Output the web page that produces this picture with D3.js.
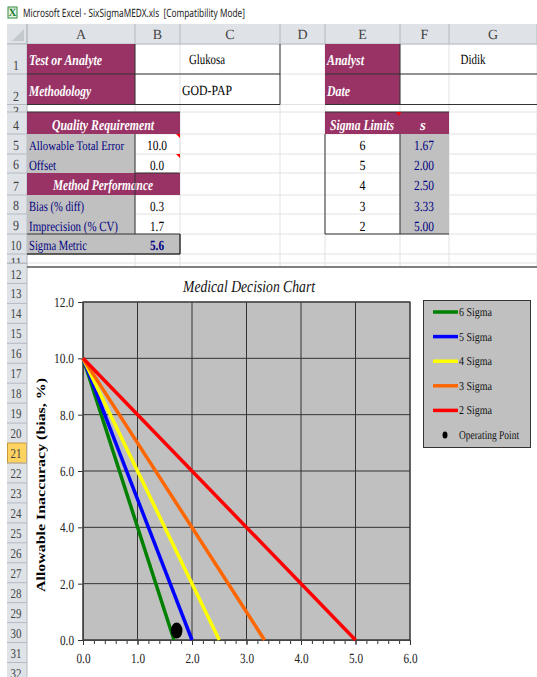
<!DOCTYPE html>
<html>
<head>
<meta charset="utf-8">
<script src="https://cdn.jsdelivr.net/npm/d3@7"></script>
<style>
body { margin: 0; background: #fff; }
svg { display: block; }
text { font-family: "Liberation Serif", serif; text-rendering: geometricPrecision; white-space: pre; }
</style>
</head>
<body>
<svg id="chart" width="537" height="677"></svg>
<script>
// Data
let sigmaLabels = ["6 Sigma", "5 Sigma", "4 Sigma", "3 Sigma", "2 Sigma"];
let sigmaLevels = [6, 5, 4, 3, 2];
let sigmaLimits = [1.67, 2.00, 2.50, 3.33, 5.00];
let allowableError = 10.0;
let offset = 0.0;
let bias = 0.3;
let imprecision = 1.7;
let sigmaMetric = 5.6;
let lineColors = ["#008000", "#0000ff", "#ffff00", "#ff6600", "#ff0000"];
let xTicks = [0, 1, 2, 3, 4, 5, 6];
let xMinorTicks = d3.range(0, 6.01, 0.2);
let yTicks = [0, 2, 4, 6, 8, 10, 12];

let svg = d3.select("#chart");

// helper: text squeezed to a given width like the scaled screenshot
function label(x, y, str, o) {
    o = o || {};
    let t = svg.append("text")
        .attr("x", x).attr("y", y)
        .attr("font-size", o.size || 14)
        .attr("fill", o.fill || "#000")
        .attr("text-anchor", o.anchor || "start")
        .text(str);
    if (o.italic) t.attr("font-style", "italic");
    if (o.bold) t.attr("font-weight", "bold");
    if (o.width) t.attr("textLength", o.width).attr("lengthAdjust", "spacingAndGlyphs");
    return t;
}
function rect(x, y, w, h, fill) {
    return svg.append("rect").attr("x", x).attr("y", y).attr("width", w).attr("height", h).attr("fill", fill);
}
function hline(x1, x2, y, color, w) {
    svg.append("line").attr("x1", x1).attr("x2", x2).attr("y1", y).attr("y2", y)
        .attr("stroke", color).attr("stroke-width", w || 1);
}
function vline(x, y1, y2, color, w) {
    svg.append("line").attr("x1", x).attr("x2", x).attr("y1", y1).attr("y2", y2)
        .attr("stroke", color).attr("stroke-width", w || 1);
}

// Window title
rect(8, 7, 9, 11, "#e8f3e8").attr("stroke", "#2e8b3d");
label(12.5, 16, "X", { size: 11, fill: "#1d7a30", anchor: "middle", bold: true });
svg.append("text").attr("x", 23).attr("y", 17).attr("font-size", 11.5).attr("fill", "#222")
    .style("font-family", "'Noto Sans', sans-serif")
    .attr("textLength", 222).attr("lengthAdjust", "spacingAndGlyphs")
    .text("Microsoft Excel - SixSigmaMEDX.xls  [Compatibility Mode]");

// Sheet grid
let colEdges = [27, 135, 180, 280, 325, 400, 449, 537];
let colNames = ["A", "B", "C", "D", "E", "F", "G"];
let rowEdges = [44, 74, 104.5, 112, 134, 154, 173, 195, 214, 234, 254, 263];

rowEdges.forEach(y => hline(27, 537, y, "#e2e2e2"));
colEdges.forEach(x => vline(x, 44, 267, "#e2e2e2"));

// Column headers
rect(7, 24, 530, 20, "#dfe3e8");
colEdges.forEach(x => vline(x, 24, 44, "#b4bac2"));
hline(7, 537, 44, "#b4bac2");
svg.append("path").attr("d", "M12 41 L24 41 L24 29 Z").attr("fill", "#c4c9cf");
colNames.forEach((c, i) => label((colEdges[i] + colEdges[i + 1]) / 2, 39, c, { size: 14, fill: "#444", anchor: "middle" }));

// Row headers
rect(7, 44, 20, 633, "#dfe3e8");
let lowerRows = d3.range(12, 33);
rowEdges.forEach(y => hline(7, 27, y, "#b4bac2"));
lowerRows.forEach((r, i) => {
    let top = 263.5 + i * 19.95;
    if (r == 21) rect(7.5, top, 19, 20, "#ffd35f").attr("stroke", "#c8963c");
    else hline(7, 27, top, "#b4bac2");
    label(16, top + 15, r, { size: 13.5, fill: "#444", anchor: "middle", width: 11 });
});
vline(27, 24, 677, "#b4bac2");
let upperRows = [1, 2, 3, 4, 5, 6, 7, 8, 9, 10, 11];
// rows 3 and 11 are so short that only a sliver of the number shows
upperRows.forEach((r, i) => {
    let short = r == 3 || r == 11;
    let t = label(16, short ? rowEdges[i + 1] + 4 : rowEdges[i + 1] - 4, r,
        { size: 14, fill: "#444", anchor: "middle", width: r > 9 ? 11 : 6 });
    if (short) {
        let id = "row" + r;
        svg.append("clipPath").attr("id", id).append("rect")
            .attr("x", 7).attr("y", rowEdges[i]).attr("width", 20).attr("height", rowEdges[i + 1] - rowEdges[i]);
        t.attr("clip-path", `url(#${id})`);
    }
});

let purple = "#993366", gray = "#c0c0c0", navy = "#000080", dark = "#333";

// Top left header block
rect(27, 44, 108, 60.5, purple);
rect(325, 44, 75, 60.5, purple);
hline(27, 280, 74, dark); hline(27, 280, 104.5, dark);
hline(325, 537, 74, dark); hline(325, 537, 104.5, dark);
vline(135, 44, 104.5, dark); vline(280, 44, 104.5, dark); vline(400, 44, 104.5, dark);
label(29, 65, "Test or Analyte", { size: 15, fill: "#fff", italic: true, bold: true, width: 73 });
label(29, 96, "Methodology", { size: 15, fill: "#fff", italic: true, bold: true, width: 62 });
label(207, 64, "Glukosa", { anchor: "middle", size: 14, width: 36 });
label(207, 95, "GOD-PAP", { anchor: "middle", size: 14, width: 50 });
label(327, 65, "Analyst", { size: 15, fill: "#fff", italic: true, bold: true, width: 37 });
label(327, 96, "Date", { size: 15, fill: "#fff", italic: true, bold: true, width: 23 });
label(473, 64, "Didik", { anchor: "middle", size: 14, width: 25 });

// Quality requirement block
rect(27, 112, 153, 22, purple);
label(103, 130, "Quality Requirement", { anchor: "middle", size: 15, fill: "#fff", italic: true, bold: true, width: 102 });
rect(27, 134, 108, 39, gray);
label(29, 150, "Allowable Total Error", { size: 13, fill: navy, width: 95 });
label(29, 170, "Offset", { fill: navy, width: 27 });
label(157, 150, allowableError.toFixed(1), { anchor: "middle", width: 20 });
label(157, 170, offset.toFixed(1), { anchor: "middle", width: 14 });
rect(27, 173, 153, 22, purple);
label(103, 190, "Method Performance", { anchor: "middle", size: 15, fill: "#fff", italic: true, bold: true, width: 100 });
rect(27, 195, 108, 39, gray);
label(29, 211, "Bias (% diff)", { fill: navy, width: 55 });
label(29, 231, "Imprecision (% CV)", { fill: navy, width: 89 });
label(157, 211, bias.toFixed(1), { anchor: "middle", width: 14 });
label(157, 231, imprecision.toFixed(1), { anchor: "middle", width: 14 });
rect(27, 234, 153, 20, gray);
label(29, 250, "Sigma Metric", { fill: navy, width: 58 });
label(157, 250, sigmaMetric.toFixed(1), { anchor: "middle", bold: true, fill: navy, width: 14 });
hline(27, 180, 112, dark); hline(135, 180, 173, dark); hline(27, 180, 234, dark);
hline(27, 180, 254, dark, 1.5); vline(135, 134, 234, dark); vline(180, 234, 254, dark, 1.5);
vline(180, 134, 173, "#e2e2e2");
svg.append("path").attr("d", "M176 134 L180 134 L180 138 Z").attr("fill", "#f00");
svg.append("path").attr("d", "M176 154 L180 154 L180 158 Z").attr("fill", "#f00");

// Sigma limits table
rect(325, 112, 124, 22, purple);
hline(325, 449, 112, dark);
label(362, 130, "Sigma Limits", { anchor: "middle", size: 15, fill: "#fff", italic: true, bold: true, width: 64 });
label(423, 130, "s", { anchor: "middle", size: 15, fill: "#fff", italic: true, bold: true });
svg.append("path").attr("d", "M396 112 L401 112 L399 116 Z").attr("fill", "#f00");
rect(400, 134, 49, 100, gray);
let tableRows = [134, 154, 173.5, 194.5, 214.5];
sigmaLevels.forEach((s, i) => {
    label(362.5, tableRows[i] + 16, s, { anchor: "middle", width: 6 });
    label(424, tableRows[i] + 16, sigmaLimits[i].toFixed(2), { anchor: "middle", fill: navy, width: 20 });
});
vline(325, 134, 234, dark); vline(400, 134, 234, dark); hline(325, 449, 234, dark);

// Chart area
rect(28, 267, 509, 410, "#fff");
hline(27, 537, 267, "#555", 1.5);

let x = d3.scaleLinear().domain([0, 6]).range([83, 410]);
let y = d3.scaleLinear().domain([0, 12]).range([640, 302]);

rect(x(0), y(12), x(6) - x(0), y(0) - y(12), gray);

// Grid
let grid = svg.append("g").attr("stroke", "#333").attr("stroke-width", 1);
xTicks.forEach(t => grid.append("line").attr("x1", x(t)).attr("x2", x(t)).attr("y1", y(12)).attr("y2", y(0)));
yTicks.forEach(t => grid.append("line").attr("x1", x(0)).attr("x2", x(6)).attr("y1", y(t)).attr("y2", y(t)));

// Axes
let minorAxis = svg.append("g").attr("transform", `translate(0,${y(0)})`)
    .call(d3.axisBottom(x).tickValues(xMinorTicks).tickSize(4).tickFormat(""));
minorAxis.selectAll("path").remove();
minorAxis.selectAll("line").attr("stroke", "#333");

let xAxis = svg.append("g").attr("transform", `translate(0,${y(0)})`)
    .call(d3.axisBottom(x).tickValues(xTicks).tickSize(5).tickPadding(8).tickFormat(d3.format(".1f")));
let yAxis = svg.append("g").attr("transform", `translate(${x(0)},0)`)
    .call(d3.axisLeft(y).tickValues(yTicks).tickSize(5).tickPadding(4).tickFormat(d3.format(".1f")));
[xAxis, yAxis].forEach(a => {
    a.select("path").attr("stroke", "#444");
    a.selectAll("line").attr("stroke", "#333");
    a.selectAll("text").attr("font-size", 14).attr("fill", "#222")
        .style("font-family", "'Liberation Serif', serif");
});
xAxis.selectAll("text").attr("textLength", 14).attr("lengthAdjust", "spacingAndGlyphs");
yAxis.selectAll("text").attr("textLength", d => d >= 10 ? 20 : 14).attr("lengthAdjust", "spacingAndGlyphs");

// Plot frame
svg.append("rect").attr("x", x(0)).attr("y", y(12)).attr("width", x(6) - x(0)).attr("height", y(0) - y(12))
    .attr("fill", "none").attr("stroke", "#444").attr("stroke-width", 1.2);

// Sigma lines
let line = d3.line().x(d => x(d[0])).y(d => y(d[1]));
sigmaLimits.forEach((s, i) => {
    svg.append("path")
        .attr("d", line([[offset, allowableError], [s, offset]]))
        .attr("fill", "none")
        .attr("stroke", lineColors[i])
        .attr("stroke-width", 3.5);
});

// Operating point
svg.append("ellipse")
    .attr("cx", x(imprecision) + 1).attr("cy", y(bias) - 1)
    .attr("rx", 5.8).attr("ry", 8).attr("fill", "#000");

// Titles
label(249, 292, "Medical Decision Chart", { anchor: "middle", size: 17, italic: true, fill: "#111", width: 132 });
label(0, 0, "Allowable Inaccuracy (bias, %)", { anchor: "middle", size: 12.5, bold: true, width: 214 })
    .attr("transform", "translate(45,485) rotate(-90)");

// Legend
rect(423.5, 300.5, 107, 147, gray).attr("stroke", "#333").attr("stroke-width", 1);
let legendY = d3.scalePoint().domain(d3.range(6)).range([312, 435]);
sigmaLabels.forEach((name, i) => {
    svg.append("line").attr("x1", 433).attr("x2", 458).attr("y1", legendY(i)).attr("y2", legendY(i))
        .attr("stroke", lineColors[i]).attr("stroke-width", 3.5);
    label(459, legendY(i) + 4, name, { size: 12, fill: "#111", width: 33 });
});
svg.append("ellipse").attr("cx", 445).attr("cy", legendY(5)).attr("rx", 2.5).attr("ry", 3.5).attr("fill", "#000");
label(459, legendY(5) + 4, "Operating Point", { size: 12, fill: "#111", width: 60 });
</script>
</body>
</html>
